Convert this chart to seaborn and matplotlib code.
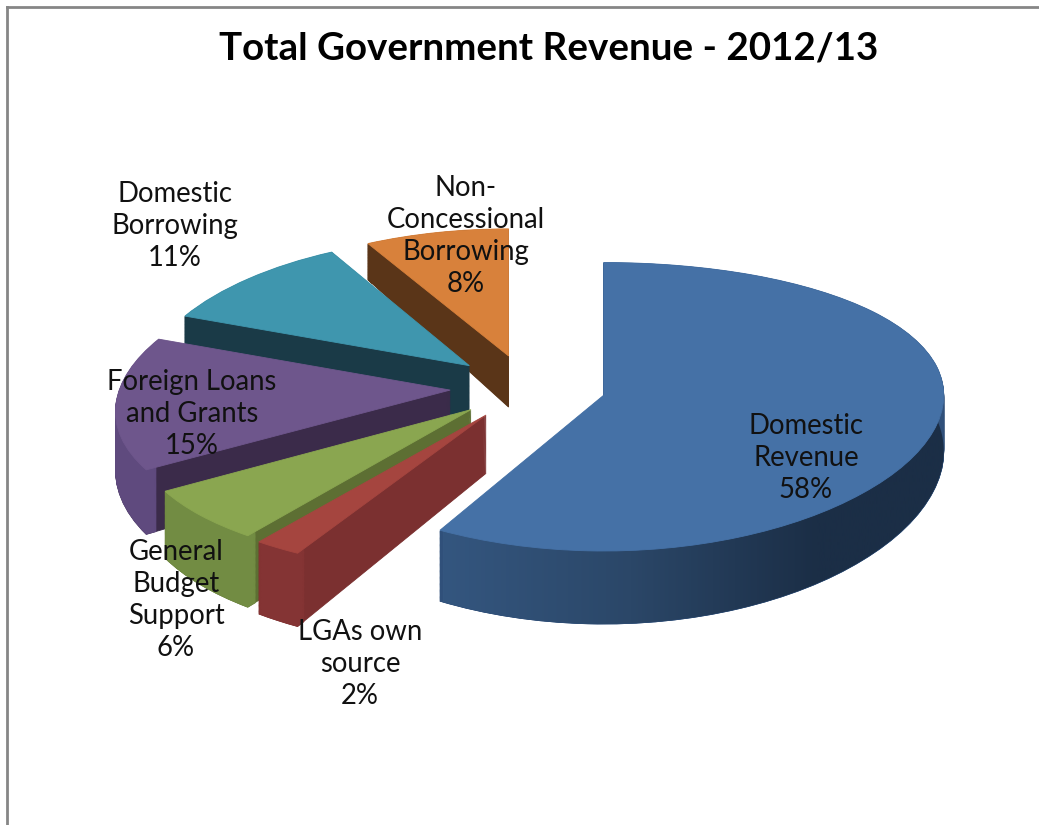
import numpy as np
import seaborn as sns
import matplotlib
matplotlib.use("Agg")
import matplotlib.pyplot as plt
from matplotlib.colors import LinearSegmentedColormap
from matplotlib.path import Path
from matplotlib.transforms import Transform

categories = ["Domestic\nRevenue", "LGAs own\nsource", "General\nBudget\nSupport",
              "Foreign Loans\nand Grants", "Domestic\nBorrowing", "Non-\nConcessional\nBorrowing"]
shares = [58, 2, 6, 15, 11, 8]

top_colors = ["#4571A6", "#A5453F", "#8AA650", "#6E568C", "#3F96AE", "#D8813B"]
cut_colors = ["#30507A", "#7B3030", "#5D6F33", "#3B2B4A", "#1A3A47", "#5A3518"]
rim_colors = ["#30507A", "#843434", "#728C43", "#5F4A7E", "#1A3A47", "#5A3518"]
blue_side = ["#34567F", "#2B4768", "#1B2E46", "#1B2E46"]

# back to front, so nearer slices cover the ones behind them
draw_rank = [5, 4, 3, 2, 1, 0]
explode = [0.23] * 6
depth = 0.387
n_layers = 60

W, H = 1039, 825
CX, CY, RX, RY = 528, 387, 340, 142
LEFT, TOP = 7, 7
TILT_Y = 0.08
TILT_X = [0, 0.15, 0.15, 0.15, 0.15, 0.15]
SQUEEZE_X = [1, 0.966, 0.955, 0.97, 0.97, 1]
DEPTH_TILT = 0.31


class Perspective(Transform):
    # fakes the 3D tilt: the far side of each slice narrows around its own tip
    input_dims = output_dims = 2
    is_separable = False
    has_inverse = False

    def __init__(self, drop, tip_x, tilt_x, squeeze=1):
        super().__init__()
        self.drop = drop
        self.tip_x = tip_x
        self.tilt_x = tilt_x
        self.squeeze = squeeze

    def transform_non_affine(self, values):
        values = np.asarray(values)
        u, v = values[:, 0], values[:, 1]
        x = self.tip_x + self.squeeze * (u - self.tip_x) / (1 + self.tilt_x * v)
        y = v / (1 + TILT_Y * v) - self.drop * (1 - DEPTH_TILT * v)
        return np.column_stack([x, y])


sns.set_theme(style="white")
plt.rcParams["font.family"] = ["Lato", "DejaVu Sans"]

fig = plt.figure(figsize=(W / 100, H / 100), dpi=100)
ax = fig.add_axes([LEFT / W, 0, 1 - LEFT / W, 1 - TOP / H])


def draw_pie(colors, drop, width=None, z=0.0):
    props = {"linewidth": 0.6}
    if width is not None:
        props["width"] = width
    wedges, _ = ax.pie(shares, colors=colors, startangle=90, counterclock=False,
                       explode=explode, radius=1, wedgeprops=props, frame=True)
    for i, w in enumerate(wedges):
        w.set_edgecolor(colors[i])
        w.set_zorder(draw_rank[i] * 10 + z)
        w.set_transform(Perspective(drop, w.center[0], TILT_X[i], SQUEEZE_X[i]) + ax.transData)
    return wedges


for k, drop in enumerate(np.linspace(depth, 0, n_layers, endpoint=False)):
    draw_pie(cut_colors, drop, z=1 + k / n_layers)
    draw_pie(rim_colors, drop, width=0.03, z=3 + k / n_layers)
top = draw_pie(top_colors, 0, z=7)

xlim = ((LEFT - CX) / RX, (W - CX) / RX)
ylim = ((CY - H) / RY, (CY - TOP) / RY)

# the outer wall of the big slice fades from left to right
blue = top[0]
t = np.radians(np.linspace(blue.theta1, blue.theta2, 200))
arc = np.column_stack([blue.center[0] + np.cos(t), blue.center[1] + np.sin(t)])
wall = np.vstack([Perspective(0, blue.center[0], TILT_X[0]).transform(arc),
                  Perspective(depth, blue.center[0], TILT_X[0]).transform(arc)[::-1]])
cmap = LinearSegmentedColormap.from_list("blue_side", blue_side)
im = ax.imshow(np.linspace(0, 1, 256).reshape(1, -1), cmap=cmap, aspect="auto",
               extent=(-0.25, 1.4, ylim[0], ylim[1]), zorder=draw_rank[0] * 10 + 5)
im.set_clip_path(Path(np.vstack([wall, wall[:1]]), closed=True), ax.transData)

ax.set_aspect("auto")
ax.set_xlim(xlim)
ax.set_ylim(ylim)
ax.set_xticks([])
ax.set_yticks([])
for side in ["right", "bottom"]:
    ax.spines[side].set_visible(False)
for side in ["left", "top"]:
    ax.spines[side].set_visible(True)
    ax.spines[side].set_color("#868686")
    ax.spines[side].set_linewidth(2)

label_pos = [(806, 458), (360, 664), (176, 600), (192, 414), (175, 226), (466, 236)]
for cat, val, (px, py) in zip(categories, shares, label_pos):
    fig.text(px / W, 1 - py / H, f"{cat}\n{val}%", ha="center", va="center",
             fontsize=19.8, color="#111111", linespacing=1.275, zorder=100)

fig.text(549 / W, 1 - 48 / H, "Total Government Revenue - 2012/13", ha="center", va="center",
         fontsize=27.7, fontweight="bold", color="black")

fig.savefig("out.png", dpi=100)
